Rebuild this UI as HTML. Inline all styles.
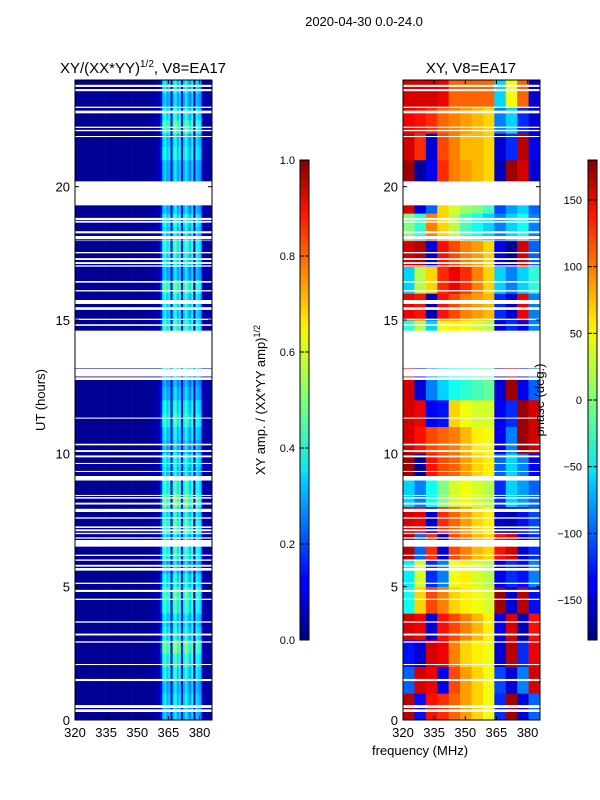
<!DOCTYPE html>
<html><head><meta charset="utf-8"><style>
html,body{margin:0;padding:0;background:#fff;}
svg{display:block;font-family:"Liberation Sans","DejaVu Sans",sans-serif;}
</style></head><body>
<svg id="fig" width="600" height="800" viewBox="0 0 600 800">
<defs>
<linearGradient id="jetg" x1="0" y1="1" x2="0" y2="0">
<stop offset="0" stop-color="#000080"/><stop offset="0.11" stop-color="#0000ff"/>
<stop offset="0.125" stop-color="#0000ff"/><stop offset="0.34" stop-color="#00d4ff"/>
<stop offset="0.35" stop-color="#0ae4f4"/><stop offset="0.5" stop-color="#7dff7a"/>
<stop offset="0.64" stop-color="#f4f802"/><stop offset="0.66" stop-color="#ffea00"/>
<stop offset="0.89" stop-color="#ff1300"/><stop offset="1" stop-color="#800000"/>
</linearGradient>
</defs>
<text x="364" y="26" font-size="13" text-anchor="middle">2020-04-30 0.0-24.0</text>
<text x="143" y="73" font-size="15" text-anchor="middle">XY/(XX*YY)<tspan font-size="10" dy="-6">1/2</tspan><tspan dy="6">, V8=EA17</tspan></text>
<text x="471" y="73" font-size="15" text-anchor="middle">XY, V8=EA17</text>
<g id="left"></g>
<g id="right"></g>
<g id="axes"></g>
<text transform="translate(45,400) rotate(-90)" font-size="13" text-anchor="middle">UT (hours)</text>
<text x="420" y="755" font-size="13" text-anchor="middle">frequency (MHz)</text>
<rect x="300" y="160" width="9" height="480" fill="url(#jetg)" stroke="#000" stroke-width="1"/>
<rect x="588" y="160" width="9" height="480" fill="url(#jetg)" stroke="#000" stroke-width="1"/>
<g id="cb"></g>
<text transform="translate(265,400) rotate(-90)" font-size="13" text-anchor="middle">XY amp. / (XX*YY amp)<tspan font-size="9" dy="-5">1/2</tspan></text>
<text transform="translate(544,400) rotate(-90)" font-size="13" text-anchor="middle">phase (deg.)</text>
</svg>
<script>
// ---- data ----
const freqMin = 320, freqMax = 386;
const xTicks = [320,335,350,365,380];
const yTicks = [0,5,10,15,20];
const ampTicks = [0.0,0.2,0.4,0.6,0.8,1.0];
const phaseTicks = [-150,-100,-50,0,50,100,150];
// amplitude frequency profile, 1 MHz channels 320..385
const ampFreqProfile = [
0.02,0.02,0.02,0.02,0.02,0.02,0.02,0.02,0.02,0.02,0.02,0.02,0.02,0.02,0.02,0.02,0.02,0.02,0.02,0.02,
0.02,0.02,0.02,0.02,0.02,0.02,0.02,0.02,0.02,0.02,0.02,0.02,0.02,0.02,0.02,0.02,0.03,0.03,0.03,0.04,
0.06,0.12,0.30,0.34,0.27,0.31,0.09,0.32,0.37,0.27,0.33,0.10,0.30,0.36,0.29,0.25,0.34,0.09,0.32,0.29,
0.26,0.07,0.04,0.04,0.04,0.04];
// amplitude time profile, half-hour rows from 0h
const ampTimeProfile = [
1.0,1.1,1.0,1.2,1.3,1.5,1.2,1.1,1.3,1.4,1.2,1.0,1.3,1.1,1.4,1.2,1.5,1.3,1.1,1.2,
1.0,1.1,1.3,1.2,1.0,0.9,1.1,1.0,1.2,1.3,1.1,1.2,1.4,1.0,1.2,1.3,1.1,1.2,1.0,1.1,
1.0,1.0,1.2,1.1,1.4,1.2,1.0,1.1];
// phase (deg), hourly rows from 0h, 12 columns of 5.5 MHz
const phaseGrid = [
[160,-130,130,120,100,80,60,40,-120,170,-150,-100],
[-100,150,140,-140,110,80,60,40,-110,-150,-90,150],
[-130,-150,150,140,90,60,50,40,-150,160,-120,140],
[150,140,-150,130,110,90,70,50,-140,150,-160,130],
[-40,60,110,90,60,50,40,30,170,-150,160,-130],
[-50,30,-120,-90,40,50,30,20,-140,-120,-130,-90],
[160,-100,120,-150,110,90,70,60,130,150,-150,-120],
[150,140,-150,120,100,80,60,50,-150,-160,-130,-110],
[-60,-90,-40,0,30,40,30,20,-120,-60,-80,-100],
[170,-170,130,110,100,80,60,50,-100,-60,-90,-140],
[150,130,110,100,90,70,50,40,-140,-90,170,150],
[150,140,-140,-130,60,40,30,30,-140,-120,170,150],
[150,-150,-90,-60,-40,-30,-20,-10,-150,170,-140,-100],
[150,-150,-90,-60,-40,-30,-20,-10,-150,170,-140,-100],
[-30,20,-60,40,50,40,30,20,-150,-120,-140,-90],
[140,130,-160,130,110,90,80,70,-120,-150,140,-90],
[-60,20,60,120,140,120,90,60,-60,-90,-60,-30],
[150,160,-150,130,110,90,80,60,-140,-170,150,-100],
[0,-30,90,60,20,-20,-40,-60,-90,-60,-40,-90],
[150,-150,-100,60,30,10,0,-20,-110,-80,-60,-100],
[170,-170,-140,120,90,80,70,60,-160,170,150,-150],
[150,120,-150,110,90,70,70,60,-150,-120,160,-140],
[140,130,120,100,90,80,70,60,-90,-60,-120,-150],
[150,150,150,140,100,100,100,100,-60,40,100,-150]];
// flagged (blank) time intervals, hours [start,end]
const flagged = [
[23.74,23.82],[23.58,23.66],[22.95,23.0],[22.75,22.85],[22.2,22.25],[22.08,22.13],[21.86,21.9],
[19.3,20.2],[18.75,18.83],[18.65,18.72],[18.25,18.33],[18.03,18.15],[17.96,17.98],[17.5,17.55],
[17.25,17.32],[17.1,17.17],[17.0,17.05],[16.4,16.46],[16.07,16.12],[15.6,15.75],[15.38,15.48],
[15.0,15.05],[14.78,14.84],[13.2,14.6],[12.88,13.18],[12.75,12.85],
[11.3,11.34],[10.3,10.36],[10.05,10.12],[9.85,9.92],[9.6,9.64],[9.3,9.34],[8.98,9.15],
[8.4,8.44],[8.3,8.36],[8.08,8.15],[7.8,7.92],[7.55,7.6],[7.2,7.26],[7.08,7.15],[6.97,7.02],
[6.8,6.85],[6.5,6.75],[6.15,6.2],[5.97,6.02],[5.75,5.82],[5.6,5.7],[5.1,5.15],[4.8,4.88],
[4.5,4.55],[3.65,3.7],[3.17,3.24],[2.9,2.95],[2.06,2.1],[1.46,1.54],[0.45,0.56],[0.3,0.4]];

// ---- helpers ----
const NS='http://www.w3.org/2000/svg';
const panels=[{x0:75,x1:212,g:'left'},{x0:403,x1:540,g:'right'}];
const yTop=80,yBot=720,tMax=24;
function yScale(h){return yBot-(h/tMax)*(yBot-yTop);}
function xScale(p,f){return p.x0+(f-freqMin)/(freqMax-freqMin)*(p.x1-p.x0);}
function jet(v){v=Math.max(0,Math.min(1,v));
 const c=t=>Math.round(255*Math.max(0,Math.min(1,1.5-Math.abs(4*v-t))));
 return 'rgb('+c(3)+','+c(2)+','+c(1)+')';}
function mk(tag,attrs,parent){const e=document.createElementNS(NS,tag);for(const k in attrs)e.setAttribute(k,attrs[k]);parent.appendChild(e);return e;}

// left panel
const gl=document.getElementById('left');
for(let r=0;r<ampTimeProfile.length;r++){
 const h0=r*0.5,h1=h0+0.5;
 for(let c=0;c<ampFreqProfile.length;c++){
  const base=ampFreqProfile[c];
  const v=base<0.1?base:base*ampTimeProfile[r];
  const x0=xScale(panels[0],freqMin+c),x1=xScale(panels[0],freqMin+c+1);
  const e=mk('rect',{x:x0,y:yScale(h1),width:x1-x0+0.3,height:yScale(h0)-yScale(h1)+0.3,fill:jet(v)},gl);
  
  
 }
}
// right panel
const gr=document.getElementById('right');
const nc=phaseGrid[0].length,cw=(freqMax-freqMin)/nc;
for(let r=0;r<phaseGrid.length;r++){
 for(let c=0;c<nc;c++){
  const v=(phaseGrid[r][c]+180)/360;
  const x0=xScale(panels[1],freqMin+c*cw),x1=xScale(panels[1],freqMin+(c+1)*cw);
  const e=mk('rect',{x:x0,y:yScale(r+1),width:x1-x0+0.3,height:yScale(r)-yScale(r+1)+0.3,fill:jet(v)},gr);
  
  
 }
}
// flags, frames, ticks
const ax=document.getElementById('axes');
panels.forEach((p,i)=>{
 flagged.forEach(f=>{
  const e=mk('rect',{x:p.x0,y:yScale(f[1]),width:p.x1-p.x0,height:yScale(f[0])-yScale(f[1]),fill:'#fff'},ax);
  
  
 });
 const fr=mk('rect',{x:p.x0,y:yTop,width:p.x1-p.x0,height:yBot-yTop,fill:'none',stroke:'#000','stroke-width':1},ax);
 
 
 xTicks.forEach(t=>{
  const x=xScale(p,t);
  mk('line',{x1:x,x2:x,y1:yBot,y2:yBot-4,stroke:'#000'},ax);
  mk('line',{x1:x,x2:x,y1:yTop,y2:yTop+4,stroke:'#000'},ax);
  const tx=mk('text',{x:x,y:yBot+17,'font-size':13,'text-anchor':'middle'},ax);
  tx.textContent=t;
  
  
 });
 yTicks.forEach(t=>{
  const y=yScale(t);
  mk('line',{x1:p.x0,x2:p.x0+4,y1:y,y2:y,stroke:'#000'},ax);
  mk('line',{x1:p.x1,x2:p.x1-4,y1:y,y2:y,stroke:'#000'},ax);
  const tx=mk('text',{x:p.x0-5,y:y+5,'font-size':13,'text-anchor':'end'},ax);
  tx.textContent=t;
  
  
 });
});
// colorbar ticks
const cb=document.getElementById('cb');
ampTicks.forEach(t=>{
 const y=640-t*480;
 mk('line',{x1:300,x2:304,y1:y,y2:y,stroke:'#000'},cb);
 mk('line',{x1:309,x2:305,y1:y,y2:y,stroke:'#000'},cb);
 const tx=mk('text',{x:295,y:y+4,'font-size':11,'text-anchor':'end'},cb);
 tx.textContent=t.toFixed(1);
 
 
});
phaseTicks.forEach(t=>{
 const y=640-(t+180)/360*480;
 mk('line',{x1:588,x2:592,y1:y,y2:y,stroke:'#000'},cb);
 mk('line',{x1:597,x2:593,y1:y,y2:y,stroke:'#000'},cb);
 const tx=mk('text',{x:582,y:y+4,'font-size':11,'text-anchor':'end'},cb);
 tx.textContent=t<0?'\u2212'+(-t):t;
 
 
});
</script>
</body></html>
